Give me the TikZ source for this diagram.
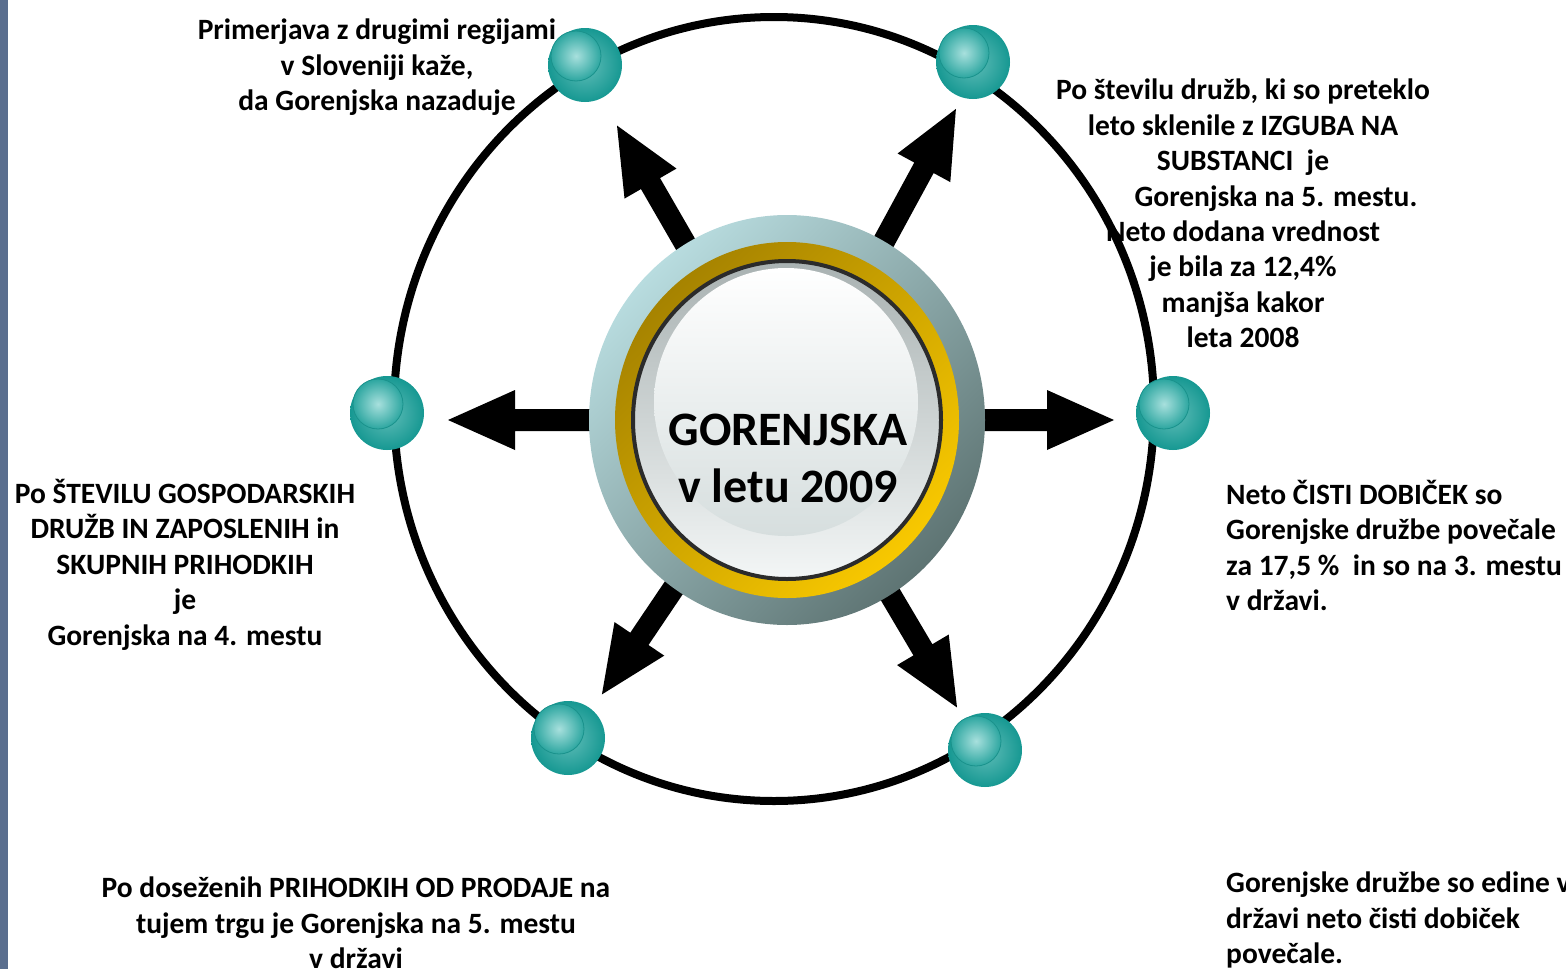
\documentclass[tikz,border=0pt]{standalone}
\usepackage{fontspec}
\setmainfont{Carlito}
\usetikzlibrary{calc}
\definecolor{barblue}{HTML}{5A6E8E}
\definecolor{ringlight}{HTML}{B8DCDF}
\definecolor{ringdark}{HTML}{5E7473}
\definecolor{golddark}{HTML}{A68300}
\definecolor{goldlight}{HTML}{F8C800}
\definecolor{darkring}{HTML}{2B2B2B}
\definecolor{diskgrey}{HTML}{A9B2B2}
\definecolor{disklight}{HTML}{F3F6F6}
\definecolor{innerlow}{HTML}{D6DEDE}
\definecolor{balledge}{HTML}{169892}
\definecolor{ballmid}{HTML}{62BEB9}
\definecolor{ballhi}{HTML}{A8E0DD}
\definecolor{ballin}{HTML}{2CA6A0}
\definecolor{ballline}{HTML}{1A928C}
\tikzset{
  lbl/.style={font=\fontsize{29.5}{35.4}\selectfont\bfseries, inner sep=0pt, anchor=north},
  bigring/.style={line width=8pt, draw=black},
}
\newcommand{\blockarr}[2]{%
  \fill[black, shift={(787,420)}, rotate=#1]
    (0,-11) -- (#2-67,-11) -- (#2-67,-30) -- (#2,0) -- (#2-67,30) -- (#2-67,11) -- (0,11) -- cycle;}
\newcommand{\tealball}[2]{%
  \coordinate (#1) at (#2);
  \shade[inner color=ballmid, outer color=balledge] (#1) circle[radius=37];
  \shade[inner color=ballhi, outer color=ballin, draw=ballline, line width=0.8pt] ($(#1)+(-9,-9)$) circle[radius=25];}
\begin{document}
\begin{tikzpicture}[x=1pt,y=-1pt]
\useasboundingbox (0,0) rectangle (1566,969);
\clip (0,0) rectangle (1566,969);
\fill[barblue] (0,0) rectangle (8,969);

% texts
\node[lbl, align=center] (t1) at (377,19) {Primerjava z drugimi regijami\\v Sloveniji kaže,\\da Gorenjska nazaduje};
\node[lbl, align=center] (t2) at (1243,79) {Po številu družb, ki so preteklo\\leto sklenile z IZGUBA NA\\SUBSTANCI\ \ je\\\hspace*{66pt}Gorenjska na 5. mestu.\\Neto dodana vrednost\\je bila za 12,4\%\\manjša kakor\\leta 2008};
\node[lbl, align=left, anchor=north west] (t3) at (1226,480) {Neto ČISTI DOBIČEK so\\Gorenjske družbe povečale\\za 17,5 \%\ \ in so na 3. mestu\\v državi.};
\node[lbl, align=center] (t4) at (185,479) {Po ŠTEVILU GOSPODARSKIH\\DRUŽB IN ZAPOSLENIH in\\SKUPNIH PRIHODKIH\\je\\Gorenjska na 4. mestu};
\node[lbl, align=center] (t5) at (356,877) {Po doseženih PRIHODKIH OD PRODAJE na\\tujem trgu je Gorenjska na 5. mestu\\v državi};
\node[lbl, align=left, anchor=north west] (t6) at (1226,872) {Gorenjske družbe so edine v\\državi neto čisti dobiček\\povečale.};

% big circle
\draw[bigring] (774,409) ellipse [x radius=380, y radius=392];

% arrows
\blockarr{120}{340}
\blockarr{61.5}{354}
\blockarr{180}{339}
\blockarr{0}{327}
\blockarr{236}{331}
\blockarr{-59.4}{334}

% central button
\coordinate (c) at (787,420);
\shade[top color=ringlight, bottom color=ringdark, shading angle=45] (c) ellipse [x radius=198, y radius=205];
\shade[top color=golddark, bottom color=goldlight, shading angle=45] (c) ellipse [x radius=172, y radius=178];
\shade[top color=diskgrey, bottom color=disklight] (c) ellipse [x radius=154, y radius=159];
\draw[darkring, line width=4pt] (c) ellipse [x radius=154, y radius=159];
\shade[top color=white, bottom color=innerlow] (786,402) ellipse [x radius=132, y radius=134];
\node[font=\fontsize{48}{57}\selectfont\bfseries, align=center, inner sep=0pt] (title) at (788,458) {GORENJSKA\\v letu 2009};

% balls
\tealball{b1}{585,65}
\tealball{b2}{973,62}
\tealball{b3}{387,413}
\tealball{b4}{1173,413}
\tealball{b5}{568,738}
\tealball{b6}{985,750}
\end{tikzpicture}
\end{document}
